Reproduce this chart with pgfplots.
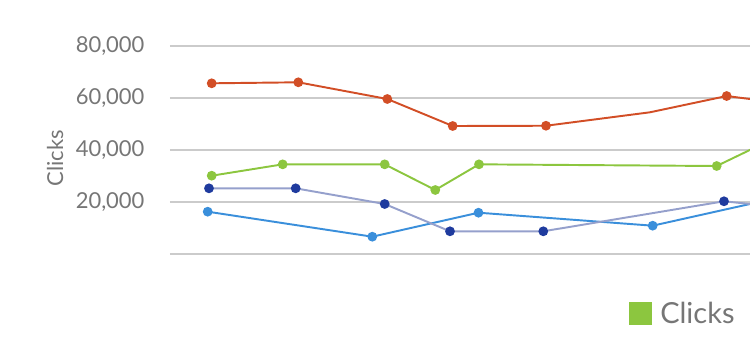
\documentclass[border=0pt]{standalone}
\usepackage{pgfplots}
\pgfplotsset{compat=1.18}
\usepackage{fontspec}
\setmainfont{Lato}
\definecolor{redc}{HTML}{D24E26}
\definecolor{greenc}{HTML}{8CC63F}
\definecolor{navym}{HTML}{1F3B9E}
\definecolor{navyl}{HTML}{95A0CC}
\definecolor{bluec}{HTML}{3A8FDB}
\definecolor{gridc}{HTML}{CBCBCB}
\definecolor{textc}{HTML}{767676}
\begin{document}
\begin{tikzpicture}
\clip (0,0) rectangle (15cm,7.08cm);
\begin{axis}[
  at={(3.4cm,1.994cm)}, anchor=south west,
  scale only axis, width=12.6cm, height=4.172cm,
  xmin=170, xmax=800, ymin=0, ymax=80000,
  enlargelimits=false, clip=true,
  scaled y ticks=false,
  axis line style={draw=none}, tick style={draw=none},
  xtick=\empty,
  ytick={0,20000,40000,60000,80000},
  yticklabels={,{20,000},{40,000},{60,000},{80,000}},
  yticklabel style={font=\fontsize{12.5}{14}\selectfont, text=textc, xshift=-11pt},
  ymajorgrids, grid style={gridc, line width=1.3pt},
  ylabel={Clicks},
  every axis y label/.style={at={(axis description cs:-0.1825,0.46)}, anchor=center, rotate=90, font=\fontsize{12.5}{14}\selectfont, text=textc},
  legend style={at={(axis description cs:0.728,-0.286)}, anchor=west, draw=none, fill=none,
    font=\fontsize{16.5}{18}\selectfont, text=textc, inner sep=0pt},
  legend cell align=left,
]
\addplot[redc, line width=1.1pt, mark=*, mark size=2.2pt, mark options={fill=redc}, mark indices={1,2,3,4,5,7}, forget plot]
  coordinates {(211.7,65580) (298.3,65960) (387.3,59560) (452.7,49200) (546,49300) (650,54460) (726.7,60700) (780,58070)};
\addplot[bluec, line width=1.1pt, mark=*, mark size=2.2pt, mark options={fill=bluec}, forget plot]
  coordinates {(207.7,16340) (372.3,6750) (478.5,15950) (652.7,10970) (780,21860)};
\addplot[navyl, line width=1.1pt, mark=*, mark size=2.2pt, mark options={draw=navym, fill=navym}, forget plot]
  coordinates {(209,25300) (295.7,25300) (384.7,19290) (450,8820) (543.3,8820) (724,20330) (780,18090)};
\addplot[greenc, line width=1.1pt, mark=*, mark size=2.2pt, mark options={fill=greenc},
  legend image code/.code={\fill[greenc] (0cm,-0.21cm) rectangle (0.42cm,0.21cm);}]
  coordinates {(211.7,30140) (282.7,34500) (384.7,34500) (435.3,24660) (479,34500) (716.7,33860) (780,45580)};
\addlegendentry{\,Clicks}
\end{axis}
\end{tikzpicture}
\end{document}
